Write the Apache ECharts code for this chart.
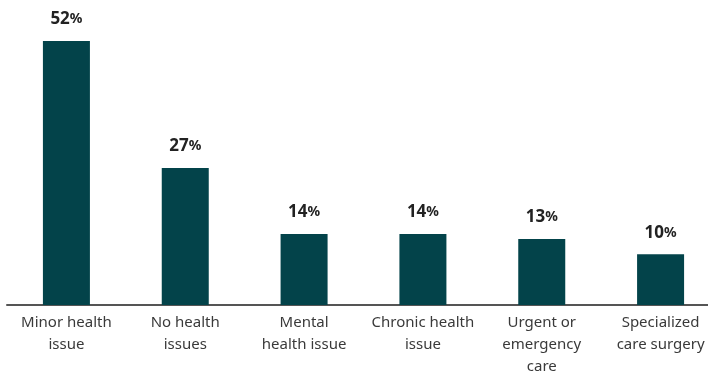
<!DOCTYPE html>
<html>
<head>
<meta charset="utf-8">
<script src="https://cdn.jsdelivr.net/npm/echarts@6/dist/echarts.min.js"></script>
<style>
  html, body { margin: 0; padding: 0; background: #fff; }
  #chart { width: 708px; height: 372px; }
</style>
</head>
<body>
<div id="chart"></div>
<script>
var categories = ['Minor health\nissue', 'No health\nissues', 'Mental\nhealth issue', 'Chronic health\nissue', 'Urgent or\nemergency\ncare', 'Specialized\ncare surgery'];
var values = [52, 27, 14, 14, 13, 10];

var myChart = echarts.init(document.getElementById('chart'));
var option = {
    animation: false,
    grid: {
        left: 7,
        top: 41,
        width: 713,
        height: 264,
        outerBoundsMode: 'none',
        containLabel: false
    },
    xAxis: {
        type: 'category',
        data: categories,
        axisLine: { lineStyle: { color: '#555', width: 2 } },
        axisTick: { show: false },
        axisLabel: {
            interval: 0,
            margin: 7,
            color: '#3a3a3a',
            fontFamily: 'Noto Sans',
            fontSize: 15,
            lineHeight: 22
        }
    },
    yAxis: {
        type: 'value',
        min: 0,
        max: 52,
        show: false,
        splitLine: { show: false }
    },
    series: [{
        type: 'bar',
        data: values,
        barWidth: 47,
        itemStyle: { color: '#03434A' },
        label: {
            show: true,
            position: 'top',
            distance: 13,
            formatter: function (p) { return '{n|' + p.value + '}{p|%}'; },
            rich: {
                n: { fontFamily: 'Noto Sans', fontWeight: 'bold', fontSize: 17, color: '#222' },
                p: { fontFamily: 'Noto Sans', fontWeight: 'bold', fontSize: 14, color: '#222' }
            }
        }
    }]
};
myChart.setOption(option);
</script>
</body>
</html>
